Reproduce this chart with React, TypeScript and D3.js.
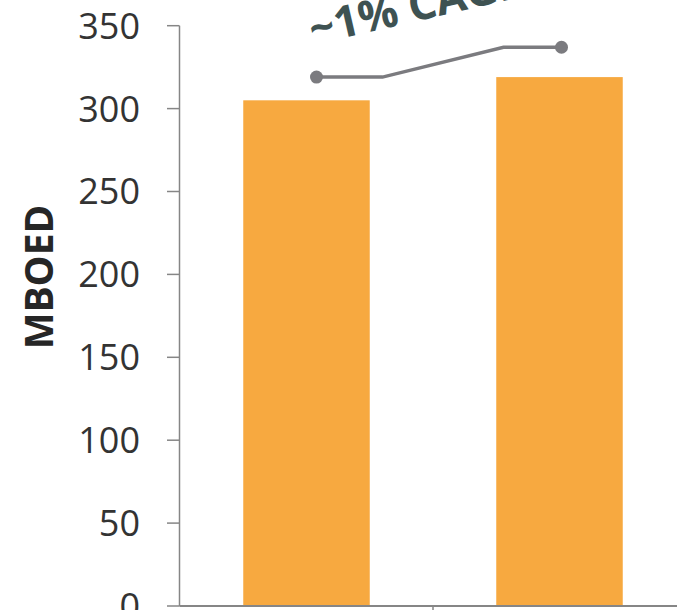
import React from "react";
import * as d3 from "d3";

const categories = ["Period 1", "Period 2"];
const values = [305, 319];
const yTicks = [0, 50, 100, 150, 200, 250, 300, 350];
const cagrLevels = [319, 337];
const cagrLabel = "~1% CAGR";
const yLabel = "MBOED";

const W = 677;
const H = 610;

export default function App() {
  const x = d3.scaleBand<string>().domain(categories).range([180, 686]).padding(0);
  const y = d3.scaleLinear().domain([0, 350]).range([606, 25.7]);
  const bw = x.bandwidth() * 0.5;

  const c1 = (x(categories[0]) as number) + x.bandwidth() / 2;
  const c2 = (x(categories[1]) as number) + x.bandwidth() / 2;
  const p1: [number, number] = [c1 + 10, y(cagrLevels[0])];
  const e1: [number, number] = [c1 + 76, y(cagrLevels[0])];
  const e2: [number, number] = [c2 - 56, y(cagrLevels[1])];
  const p2: [number, number] = [c2 + 2, y(cagrLevels[1])];
  const linePath = d3.line()([p1, e1, e2, p2]) || "";

  const axisColor = "#868686";

  return (
    <svg
      width={W}
      height={H}
      style={{ position: "absolute", left: 0, top: 0, background: "#fff" }}
      fontFamily="'Open Sans', 'DejaVu Sans', sans-serif"
    >
      {/* bars */}
      {categories.map((c, i) => (
        <rect
          key={c}
          x={(x(c) as number) + (x.bandwidth() - bw) / 2}
          y={y(values[i])}
          width={bw}
          height={y(0) - y(values[i])}
          fill="#F7A940"
        />
      ))}

      {/* y axis */}
      <line x1={179.5} x2={179.5} y1={y(350)} y2={y(0)} stroke={axisColor} strokeWidth={1.5} />
      {yTicks.map((t) => (
        <g key={t}>
          <line x1={167} x2={179.5} y1={y(t)} y2={y(t)} stroke={axisColor} strokeWidth={1.5} />
          <text
            x={140}
            y={y(t)}
            dy="0.36em"
            textAnchor="end"
            fontSize={36}
            fill="#333333"
          >
            {t}
          </text>
        </g>
      ))}

      {/* x axis */}
      <line x1={179.5} x2={W} y1={y(0)} y2={y(0)} stroke={axisColor} strokeWidth={2} />
      {categories.slice(1).map((c) => (
        <line
          key={c}
          x1={x(c) as number}
          x2={x(c) as number}
          y1={y(0)}
          y2={y(0) + 10}
          stroke={axisColor}
          strokeWidth={1.5}
        />
      ))}

      {/* y label */}
      <text
        transform={`translate(53, 277) rotate(-90)`}
        textAnchor="middle"
        fontSize={39}
        fontWeight="bold"
        fill="#262626"
      >
        {yLabel}
      </text>

      {/* CAGR connector */}
      <path d={linePath} fill="none" stroke="#7b7b7f" strokeWidth={3.5} />
      <circle cx={p1[0]} cy={p1[1]} r={6.5} fill="#7b7b7f" />
      <circle cx={p2[0]} cy={p2[1]} r={6.5} fill="#7b7b7f" />

      <text
        transform={`translate(313, 45) rotate(-13)`}
        fontSize={44}
        fontWeight="bold"
        fill="#3e5252"
      >
        {cagrLabel}
      </text>
    </svg>
  );
}
